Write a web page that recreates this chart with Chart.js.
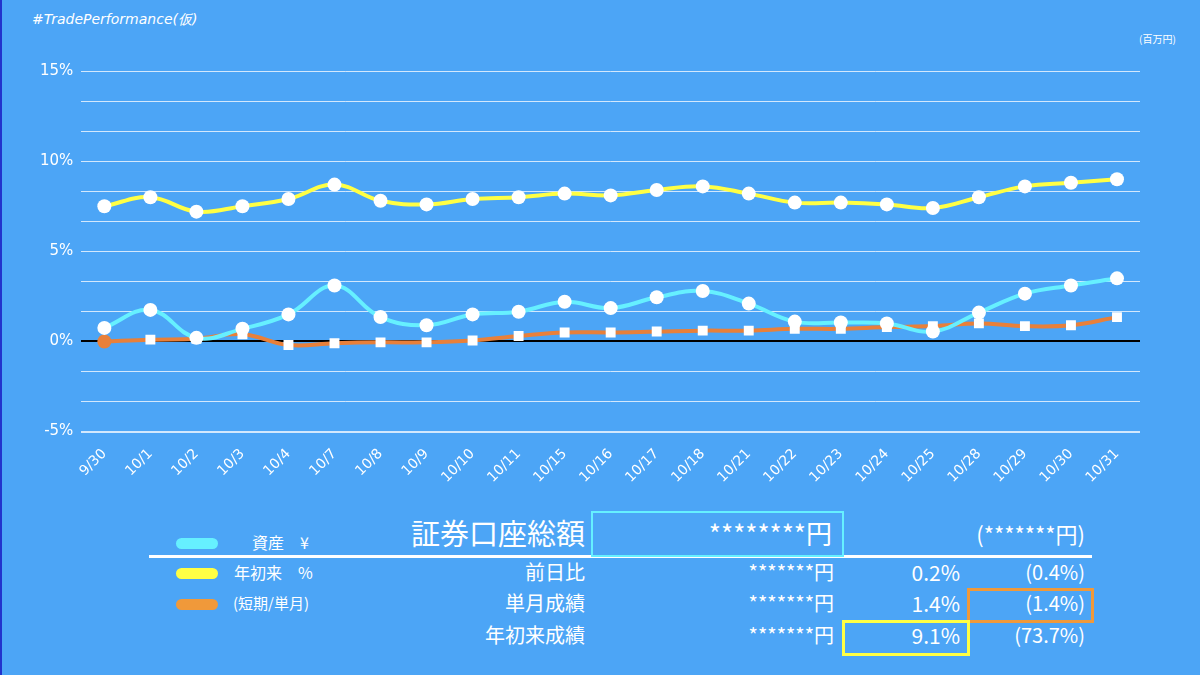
<!DOCTYPE html>
<html><head><meta charset="utf-8">
<script src="https://cdn.jsdelivr.net/npm/chart.js@4/dist/chart.umd.min.js"></script>
<style>
body{margin:0;width:1200px;height:675px;background:#4ca5f6;overflow:hidden;font-family:"Noto Sans CJK JP","Noto Sans",sans-serif;color:#fff;position:relative;border-left:2px solid #2233cc;box-sizing:border-box}
.a{position:absolute;white-space:nowrap;line-height:1}
.r{text-align:right}
.pill{position:absolute;width:42px;height:11px;border-radius:6px}
.box{position:absolute;border:3px solid;box-sizing:border-box}
</style></head><body>
<div class="a" style="left:30px;top:12px;font-size:14px;font-style:italic;font-family:'DejaVu Sans'">#TradePerformance(仮)</div>
<div class="a" style="left:1137px;top:34px;font-size:10px">(百万円)</div>
<canvas id="c" style="position:absolute;left:0;top:0" width="1200" height="492"></canvas>

<div class="pill" style="left:174px;top:538px;background:#66f0ff"></div>
<div class="pill" style="left:174px;top:568px;background:#ffff44"></div>
<div class="pill" style="left:174px;top:599px;background:#f0993a"></div>
<div class="a" style="left:250px;top:534px;font-size:16px">資産　¥</div>
<div class="a" style="left:232px;top:564px;font-size:16px">年初来　%</div>
<div class="a" style="left:231px;top:595px;font-size:15px">(短期/単月)</div>
<div style="position:absolute;left:147px;top:555px;width:943px;height:3px;background:#fff"></div>
<div class="box" style="left:589px;top:511px;width:253px;height:46px;border-color:#66f0ff;border-width:2px"></div>
<div class="box" style="left:965px;top:588px;width:127px;height:35px;border-color:#f0993a"></div>
<div class="box" style="left:840px;top:620px;width:128px;height:36px;border-color:#ffff44"></div>

<div class="a r" style="right:615px;top:518px;font-size:29px">証券口座総額</div>
<div class="a r" style="right:368px;top:520px;font-size:26px">********円</div>
<div class="a r" style="right:115px;top:522px;font-size:22px">(*******円)</div>

<div class="a r" style="right:615px;top:562px;font-size:20px">前日比</div>
<div class="a r" style="right:615px;top:593px;font-size:20px">単月成績</div>
<div class="a r" style="right:615px;top:625px;font-size:20px">年初来成績</div>
<div class="a r" style="right:366px;top:562px;font-size:20px">*******円</div>
<div class="a r" style="right:366px;top:593px;font-size:20px">*******円</div>
<div class="a r" style="right:366px;top:625px;font-size:20px">*******円</div>
<div class="a r" style="right:240px;top:562px;font-size:21px">0.2%</div>
<div class="a r" style="right:240px;top:593px;font-size:21px">1.4%</div>
<div class="a r" style="right:240px;top:625px;font-size:21px">9.1%</div>
<div class="a r" style="right:115px;top:562px;font-size:20px">(0.4%)</div>
<div class="a r" style="right:115px;top:593px;font-size:20px">(1.4%)</div>
<div class="a r" style="right:115px;top:625px;font-size:20px">(73.7%)</div>

<script>
const dates = ['9/30','10/1','10/2','10/3','10/4','10/7','10/8','10/9','10/10','10/11','10/15','10/16','10/17','10/18','10/21','10/22','10/23','10/24','10/25','10/28','10/29','10/30','10/31'];
const ytd = [7.5,8.0,7.2,7.5,7.9,8.7,7.8,7.6,7.9,8.0,8.2,8.1,8.4,8.6,8.2,7.7,7.7,7.6,7.4,8.0,8.6,8.8,9.0];
const assets = [0.75,1.75,0.2,0.7,1.5,3.1,1.35,0.9,1.5,1.65,2.2,1.85,2.45,2.8,2.1,1.1,1.05,1.0,0.55,1.6,2.65,3.1,3.5];
const monthly = [0,0.1,0.15,0.4,-0.2,-0.1,-0.05,-0.05,0.05,0.3,0.5,0.5,0.55,0.6,0.6,0.7,0.7,0.8,0.85,1.0,0.85,0.9,1.35];

const sqColors = monthly.map((v, i) => i === 0 ? '#e8803a' : '#ffffff');
const sqStyles = monthly.map((v, i) => i === 0 ? 'circle' : 'rect');

new Chart(document.getElementById('c'), {
    type: 'line',
    data: {
        labels: dates,
        datasets: [
            {
                data: ytd, borderColor: '#ffff44', borderWidth: 4, tension: 0.4,
                pointRadius: 7, pointBackgroundColor: '#fff', pointBorderWidth: 0
            },
            {
                data: assets, borderColor: '#66f0ff', borderWidth: 4, tension: 0.4,
                pointRadius: 7, pointBackgroundColor: '#fff', pointBorderWidth: 0
            },
            {
                data: monthly, borderColor: '#e8803a', borderWidth: 4, tension: 0.4,
                pointRadius: 7, pointStyle: sqStyles, pointBackgroundColor: sqColors, pointBorderWidth: 0
            }
        ]
    },
    options: {
        responsive: false,
        animation: false,
        layout: { padding: { left: 30, right: 62, top: 71, bottom: 0 } },
        plugins: { legend: { display: false }, tooltip: { enabled: false } },
        scales: {
            x: {
                offset: true,
                grid: { display: false },
                border: { display: false },
                ticks: { color: '#fff', maxRotation: 45, minRotation: 45, padding: 6, font: { size: 14, family: 'DejaVu Sans' } }
            },
            y: {
                min: -5, max: 15,
                border: { display: false },
                grid: {
                    color: ctx => Math.abs(ctx.tick.value) < 1e-6 ? '#000' : 'rgba(255,255,255,0.75)',
                    lineWidth: ctx => (Math.abs(ctx.tick.value) < 1e-6 || Math.abs(ctx.tick.value + 5) < 1e-6) ? 2 : 1,
                    drawTicks: false
                },
                ticks: {
                    stepSize: 5 / 3, color: '#fff', padding: 8,
                    font: { size: 15, family: 'DejaVu Sans' },
                    callback: v => { const r = Math.round(v); return (Math.abs(v - r) < 1e-6 && r % 5 === 0) ? r + '%' : ''; }
                }
            }
        }
    }
});
</script>
</body></html>
